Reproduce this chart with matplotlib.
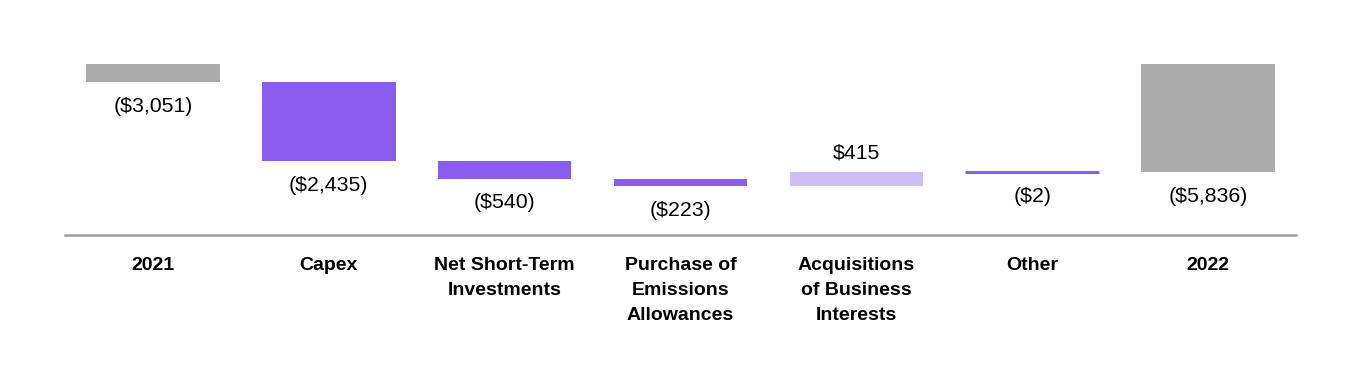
import numpy as np
from matplotlib import pyplot as plt

categories = ['2021', 'Capex', 'Net Short-Term\nInvestments', 'Purchase of\nEmissions\nAllowances',
              'Acquisitions\nof Business\nInterests', 'Other', '2022']
values = [-3051, -2435, -540, -223, 415, -2, -5836]
is_total = [True, False, False, False, False, False, True]
labels = ['($3,051)', '($2,435)', '($540)', '($223)', '$415', '($2)', '($5,836)']

# totals are drawn from a truncated base, as in the source deck
base = -2500
GRAY = '#ABABAB'
PURPLE = '#8B5CF0'
LIGHT = '#CEBEF7'

plt.rcParams['font.family'] = ['Liberation Sans', 'DejaVu Sans']

fig = plt.figure(figsize=(13.6, 3.9), dpi=100)
ax = fig.add_axes([65 / 1360, 155 / 390, 1231 / 1360, 195 / 390])

x = np.arange(len(categories))
running = 0
for i, (v, tot) in enumerate(zip(values, is_total)):
    if tot:
        bottom, height, color = base, v - base, GRAY
        running = v
    else:
        bottom, height = running, v
        color = PURPLE if v < 0 else LIGHT
        running += v
    ax.bar(x[i], height, bottom=bottom, width=0.76, color=color,
           edgecolor=color, linewidth=2.2 if abs(v) < 50 else 0)
    low = min(bottom, bottom + height)
    high = max(bottom, bottom + height)
    if v >= 0:
        ax.annotate(labels[i], (x[i], high), xytext=(0, 14), textcoords='offset points',
                    ha='center', va='center', fontsize=15.3, color='black')
    else:
        ax.annotate(labels[i], (x[i], low), xytext=(0, -17.5), textcoords='offset points',
                    ha='center', va='center', fontsize=15.3, color='black')

ax.set_xlim(-0.5, 6.5)
ax.set_ylim(-7767, -1756)
ax.set_xticks(x)
ax.set_xticklabels(categories, fontsize=14, fontweight='bold', linespacing=1.62)
ax.tick_params(axis='x', length=0, pad=16)
ax.set_yticks([])
for s in ['top', 'left', 'right']:
    ax.spines[s].set_visible(False)
ax.spines['bottom'].set_color('#A0A0A0')
ax.spines['bottom'].set_linewidth(1.8)

plt.savefig('out.png', dpi=100)
plt.close()
